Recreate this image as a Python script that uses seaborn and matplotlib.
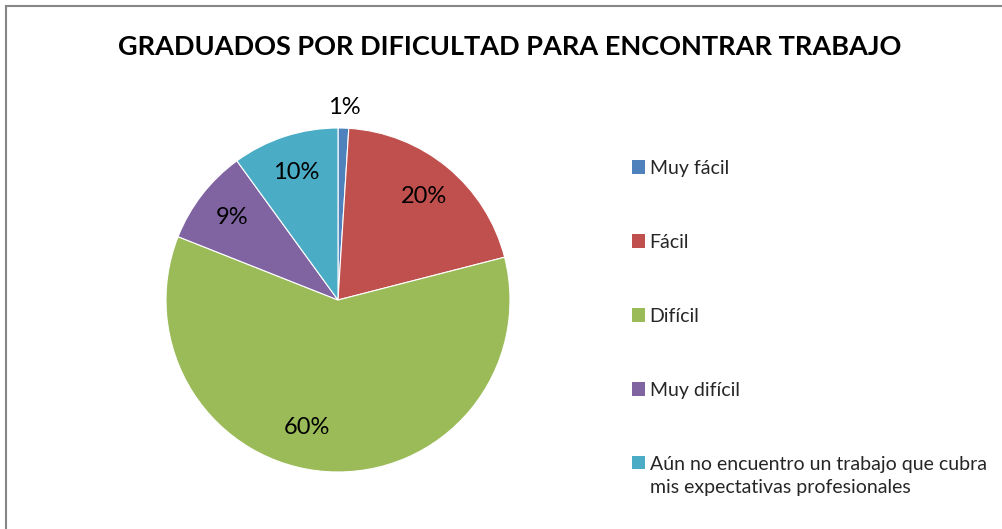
import numpy as np
import matplotlib
matplotlib.use("Agg")
import matplotlib.pyplot as plt
from matplotlib.patches import Rectangle, Patch
import seaborn as sns

categories = ["Muy fácil", "Fácil", "Difícil", "Muy difícil",
              "Aún no encuentro un trabajo que cubra\nmis expectativas profesionales"]
values = [1, 20, 60, 9, 10]
colors = ["#4F81BD", "#C0504D", "#9BBB59", "#8064A2", "#4BACC6"]
title = "GRADUADOS POR DIFICULTAD PARA ENCONTRAR TRABAJO"

sns.set_theme(style="white")
plt.rcParams['font.family'] = ['Lato', 'DejaVu Sans']

W, H = 1003, 529
fig = plt.figure(figsize=(W / 100, H / 100), dpi=100)
fig.patch.set_facecolor("white")

# pie axes: centre (338, 300) px, radius 172 px -> limits +-1.25
cx, cy, r = 338, 300, 172
half = 1.25 * r
ax = fig.add_axes([(cx - half) / W, (H - cy - half) / H, 2 * half / W, 2 * half / H])

wedges, texts, autotexts = ax.pie(
    values, colors=colors, startangle=90, counterclock=False,
    autopct=lambda p: f"{p:.0f}%", pctdistance=0.78,
    wedgeprops=dict(edgecolor="white", linewidth=0.8),
    textprops=dict(fontsize=17, color="black"))
ax.set_xlim(-1.25, 1.25)
ax.set_ylim(-1.25, 1.25)
ax.set_aspect("equal")

big = int(np.argmax(values))
for i, (w, t, v) in enumerate(zip(wedges, autotexts, values)):
    ang = np.deg2rad((w.theta1 + w.theta2) / 2)
    if v < 5:
        # small slice: label outside the pie
        t.set_position((1.12 * np.cos(ang), 1.12 * np.sin(ang)))
    elif i == big:
        ang2 = ang - np.deg2rad(10)
        t.set_position((0.76 * np.cos(ang2), 0.76 * np.sin(ang2)))

fig.text(510 / W, 1 - 47 / H, title, ha="center", va="center",
         fontsize=19.5, fontweight="bold", color="black")

handles = [Patch(facecolor=c, edgecolor="none") for c in colors]
leg = fig.legend(handles, categories, loc="upper left",
                 bbox_to_anchor=(624 / W, 1 - 152 / H), frameon=False,
                 fontsize=14, labelspacing=2.93, handlelength=0.7, handleheight=0.7,
                 handletextpad=0.22, borderaxespad=0)
for t in leg.get_texts():
    t.set_linespacing(1.45)
# align handle of multi-line entry with its first line
rows = leg._legend_handle_box.get_children()[0].get_children()
rows[-1].align = "top"

fig.add_artist(Rectangle((6.5 / W, -0.1), 1.2, (H - 6.5) / H + 0.1,
                         transform=fig.transFigure, fill=False,
                         edgecolor="#868686", linewidth=1.5))

fig.savefig("out.png", dpi=100, facecolor="white")
